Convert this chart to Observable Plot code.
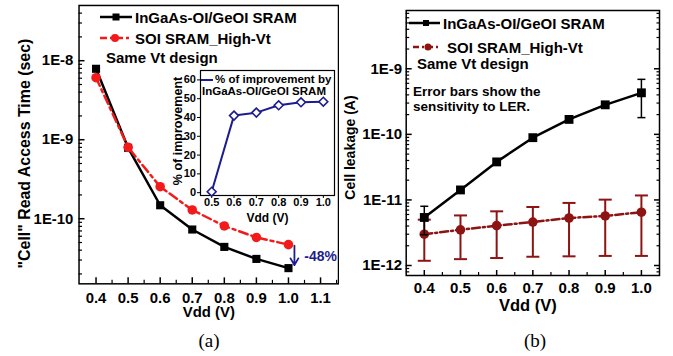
<!DOCTYPE html>
<html>
<head>
<meta charset="utf-8">
<script src="https://cdn.jsdelivr.net/npm/d3@7"></script>
<script src="https://cdn.jsdelivr.net/npm/@observablehq/plot@0.6"></script>
<style>
  html, body { margin: 0; padding: 0; background: #fff; }
  #root { position: relative; width: 673px; height: 356px; background: #fff; overflow: hidden;
          font-family: 'Liberation Sans', Arial, Helvetica, sans-serif; font-weight: bold; color: #000; }
  .abs { position: absolute; }
  .lg { position: absolute; white-space: nowrap; line-height: 1; }
  .cap { position: absolute; font-family: 'Liberation Serif', 'Times New Roman', serif; font-weight: normal;
         font-size: 19px; line-height: 1; transform: translateX(-50%); }
</style>
</head>
<body>
<div id="root"></div>
<script>
// ---------------- DATA ----------------
// Panel (a): "Cell" read access time (s)
const vddA = [0.4, 0.5, 0.6, 0.7, 0.8, 0.9, 1.0];
const accessInGaAs = [7.9e-9, 7.9e-10, 1.48e-10, 7.3e-11, 4.4e-11, 3.1e-11, 2.37e-11];
const accessSOI    = [6.1e-9, 8.0e-10, 2.54e-10, 1.29e-10, 8.1e-11, 5.8e-11, 4.7e-11];
const xTicksA = [0.4, 0.5, 0.6, 0.7, 0.8, 0.9, 1.0, 1.1];
const xMinorA = [0.45, 0.55, 0.65, 0.75, 0.85, 0.95, 1.05, 1.15];
const yTicksA = [1e-10, 1e-9, 1e-8];
const improvementLabel = "-48%";

// Inset: % of improvement
const vddInset = [0.5, 0.6, 0.7, 0.8, 0.9, 1.0];
const improvement = [0.5, 41, 42.6, 46.5, 48.1, 48.4];
const xTicksInset = [0.5, 0.6, 0.7, 0.8, 0.9, 1.0];
const yTicksInset = [0, 10, 20, 30, 40, 50, 60];

// Panel (b): cell leakage (A)
const vddB = [0.4, 0.5, 0.6, 0.7, 0.8, 0.9, 1.0];
const leakInGaAs   = [5.4e-12, 1.42e-11, 3.8e-11, 8.9e-11, 1.69e-10, 2.82e-10, 4.3e-10];
const leakInGaAsLo = [2.95e-12, null, null, null, null, null, 1.8e-10];
const leakInGaAsHi = [8.0e-12, null, null, null, null, null, 6.9e-10];
const leakSOI   = [3.0e-12, 3.5e-12, 4.05e-12, 4.6e-12, 5.3e-12, 5.7e-12, 6.5e-12];
const leakSOILo = [1.18e-12, 1.25e-12, 1.3e-12, 1.36e-12, 1.38e-12, 1.4e-12, 1.4e-12];
const leakSOIHi = [5.0e-12, 5.8e-12, 6.7e-12, 7.8e-12, 9.0e-12, 1.01e-11, 1.17e-11];
const xTicksB = [0.4, 0.5, 0.6, 0.7, 0.8, 0.9, 1.0];
const xMinorB = [0.45, 0.55, 0.65, 0.75, 0.85, 0.95];
const yTicksB = [1e-12, 1e-11, 1e-10, 1e-9];

// ---------------- STYLE ----------------
const FONT = "'Liberation Sans', Arial, Helvetica, sans-serif";
const RED = "#f21a1a";
const DARKRED = "#8e1414";
const NAVY = "#1c1c8e";

function logMinor(lo, hi) {
  const out = [];
  for (let e = Math.floor(Math.log10(lo)); e <= Math.ceil(Math.log10(hi)); e++)
    for (let m = 2; m <= 9; m++) { const v = m * Math.pow(10, e); if (v > lo && v < hi) out.push(v); }
  return out;
}
const fmtE = d => "1E" + Math.round(Math.log10(d));
const fmt1 = d3.format(".1f");
const capSymbol = { draw(ctx, size) { const r = Math.sqrt(size / Math.PI); ctx.moveTo(-r, 0); ctx.lineTo(r, 0); } };

const root = document.getElementById("root");

// ---------------- PANEL (a) ----------------
const dataA = vddA.map((v, i) => ({ vdd: v, ingaas: accessInGaAs[i], soi: accessSOI[i] }));
const yDomA = [1.5e-11, 5e-8];
const plotA = Plot.plot({
  width: 341, height: 356,
  marginLeft: 79, marginRight: 1, marginTop: 5, marginBottom: 71,
  style: { fontFamily: FONT, fontWeight: "bold", fontSize: "15px", background: "transparent", color: "black" },
  x: { domain: [0.347, 1.156], label: null },
  y: { type: "log", domain: yDomA, label: null },
  marks: [
    Plot.frame({ stroke: "black", strokeWidth: 1.5 }),
    Plot.axisX(xTicksA, { tickSize: 0, tickPadding: 8.3, tickFormat: fmt1, label: null }),
    Plot.axisX(xTicksA, { tickSize: 6, dy: -6, fill: "none", strokeWidth: 1.5, label: null }),
    Plot.axisX(xMinorA, { tickSize: 3.5, dy: -3.5, fill: "none", strokeWidth: 1.2, label: null }),
    Plot.axisY(yTicksA, { anchor: "left", tickSize: 0, tickPadding: 5.7, tickFormat: fmtE, label: null }),
    Plot.axisY(yTicksA, { anchor: "left", tickSize: 6, dx: 6, fill: "none", strokeWidth: 1.5, label: null }),
    Plot.axisY(logMinor(...yDomA), { anchor: "left", tickSize: 3.5, dx: 3.5, fill: "none", strokeWidth: 1.2, label: null }),
    Plot.line(dataA, { x: "vdd", y: "ingaas", stroke: "black", strokeWidth: 2.5 }),
    Plot.dot(dataA, { x: "vdd", y: "ingaas", symbol: "square", r: 4.6, fill: "black" }),
    Plot.line(dataA, { x: "vdd", y: "soi", stroke: RED, strokeWidth: 2.5, strokeDasharray: "9,4,3,4" }),
    Plot.dot(dataA, { x: "vdd", y: "soi", r: 4.8, fill: RED }),
    Plot.arrow(dataA.slice(-1), { x: "vdd", y1: "soi", y2: "ingaas", dx: 6, stroke: NAVY, strokeWidth: 1.8, headLength: 7, insetStart: 1, insetEnd: 3 }),
    Plot.text(dataA.slice(-1), { x: "vdd", y: d => Math.sqrt(d.soi * d.ingaas), text: () => improvementLabel, dx: 16, textAnchor: "start", fill: NAVY, fontSize: 14 }),
    Plot.text(["Vdd (V)"], { frameAnchor: "bottom", dy: 29, lineAnchor: "middle", fontSize: 15 }),
    Plot.text(["\"Cell\" Read Access Time (sec)"], { frameAnchor: "left", dx: -54, dy: 9, rotate: -90, textAnchor: "middle", lineAnchor: "middle", fontSize: 16 })
  ]
});
const wrapA = document.createElement("div");
wrapA.className = "abs";
wrapA.style.cssText = "left:0;top:0;width:339px;height:356px;overflow:hidden;";
wrapA.appendChild(plotA);
root.appendChild(wrapA);

// ---------------- INSET ----------------
const dataInset = vddInset.map((v, i) => ({ vdd: v, imp: improvement[i] }));
const plotI = Plot.plot({
  width: 176, height: 170,
  marginLeft: 40, marginRight: 2, marginTop: 8, marginBottom: 37,
  style: { fontFamily: FONT, fontWeight: "bold", fontSize: "11px", background: "transparent", color: "black", overflow: "visible" },
  x: { domain: [0.45, 1.05], label: null },
  y: { domain: [-1.5, 65], label: null },
  marks: [
    Plot.frame({ fill: "white", stroke: "black", strokeWidth: 1.2 }),
    Plot.axisX(xTicksInset, { tickSize: 0, tickPadding: 3, tickFormat: fmt1, label: null }),
    Plot.axisX(xTicksInset, { tickSize: 3, fill: "none", strokeWidth: 1, label: null }),
    Plot.axisY(yTicksInset, { anchor: "left", tickSize: 0, tickPadding: 4.5, label: null }),
    Plot.axisY(yTicksInset, { anchor: "left", tickSize: 3, fill: "none", strokeWidth: 1, label: null }),
    Plot.line(dataInset, { x: "vdd", y: "imp", stroke: NAVY, strokeWidth: 2 }),
    Plot.dot(dataInset, { x: "vdd", y: "imp", symbol: "diamond2", r: 4, fill: "white", stroke: NAVY, strokeWidth: 1.6 }),
    Plot.text(["Vdd (V)"], { frameAnchor: "bottom", dy: 23, lineAnchor: "middle", fontSize: 12 }),
    Plot.text(["% of improvement"], { frameAnchor: "left", dx: -22.5, dy: -2, rotate: -90, textAnchor: "middle", lineAnchor: "middle", fontSize: 12.5 })
  ]
});
const wrapI = document.createElement("div");
wrapI.className = "abs";
wrapI.style.cssText = "left:160px;top:62px;";
wrapI.appendChild(plotI);
root.appendChild(wrapI);

// ---------------- PANEL (b) ----------------
const dataB = vddB.map((v, i) => ({
  vdd: v, ingaas: leakInGaAs[i], ingaasLo: leakInGaAsLo[i], ingaasHi: leakInGaAsHi[i],
  soi: leakSOI[i], soiLo: leakSOILo[i], soiHi: leakSOIHi[i]
}));
const errInGaAs = dataB.filter(d => d.ingaasLo != null);
const yDomB = [7.04e-13, 7.74e-9];
const plotB = Plot.plot({
  width: 333, height: 356,
  marginLeft: 65.7, marginRight: 14, marginTop: 10, marginBottom: 81,
  style: { fontFamily: FONT, fontWeight: "bold", fontSize: "15px", background: "transparent", color: "black" },
  x: { domain: [0.35, 1.05], label: null },
  y: { type: "log", domain: yDomB, label: null },
  marks: [
    Plot.frame({ stroke: "black", strokeWidth: 1.5 }),
    Plot.axisX(xTicksB, { tickSize: 0, tickPadding: 7.3, tickFormat: fmt1, label: null }),
    Plot.axisX(xTicksB, { tickSize: 5, dy: -5, fill: "none", strokeWidth: 1.5, label: null }),
    Plot.axisX(xMinorB, { tickSize: 3, dy: -3, fill: "none", strokeWidth: 1.2, label: null }),
    Plot.axisY(yTicksB, { anchor: "left", tickSize: 0, tickPadding: 4, tickFormat: fmtE, label: null }),
    Plot.axisY(yTicksB, { anchor: "left", tickSize: 6, dx: 6, fill: "none", strokeWidth: 1.5, label: null }),
    Plot.axisY(logMinor(...yDomB), { anchor: "left", tickSize: 3.5, dx: 3.5, fill: "none", strokeWidth: 1.2, label: null }),
    Plot.axisY(yTicksB, { anchor: "right", tickSize: 6, dx: -6, fill: "none", strokeWidth: 1.5, label: null }),
    Plot.axisY(logMinor(...yDomB), { anchor: "right", tickSize: 3.5, dx: -3.5, fill: "none", strokeWidth: 1.2, label: null }),
    // SOI (dark red) with error bars
    Plot.ruleX(dataB, { x: "vdd", y1: "soiLo", y2: "soiHi", stroke: DARKRED, strokeWidth: 2 }),
    Plot.dot(dataB, { x: "vdd", y: "soiLo", symbol: capSymbol, r: 6.5, fill: "none", stroke: DARKRED, strokeWidth: 2 }),
    Plot.dot(dataB, { x: "vdd", y: "soiHi", symbol: capSymbol, r: 6.5, fill: "none", stroke: DARKRED, strokeWidth: 2 }),
    Plot.line(dataB, { x: "vdd", y: "soi", stroke: DARKRED, strokeWidth: 2.5, strokeDasharray: "8,3,2,3" }),
    Plot.dot(dataB, { x: "vdd", y: "soi", r: 4.8, fill: DARKRED }),
    // InGaAs (black) with error bars
    Plot.ruleX(errInGaAs, { x: "vdd", y1: "ingaasLo", y2: "ingaasHi", stroke: "black", strokeWidth: 1.5 }),
    Plot.dot(errInGaAs, { x: "vdd", y: "ingaasLo", symbol: capSymbol, r: 4, fill: "none", stroke: "black", strokeWidth: 1.5 }),
    Plot.dot(errInGaAs, { x: "vdd", y: "ingaasHi", symbol: capSymbol, r: 4, fill: "none", stroke: "black", strokeWidth: 1.5 }),
    Plot.line(dataB, { x: "vdd", y: "ingaas", stroke: "black", strokeWidth: 2.5 }),
    Plot.dot(dataB, { x: "vdd", y: "ingaas", symbol: "square", r: 5, fill: "black" }),
    Plot.text(["Vdd (V)"], { frameAnchor: "bottom", dx: -5, dy: 30, lineAnchor: "middle", fontSize: 16.5 }),
    Plot.text(["Cell leakage (A)"], { frameAnchor: "left", dx: -55.7, dy: 4.5, rotate: -90, textAnchor: "middle", lineAnchor: "middle", fontSize: 14 })
  ]
});
const wrapB = document.createElement("div");
wrapB.className = "abs";
wrapB.style.cssText = "left:340px;top:0;";
wrapB.appendChild(plotB);
root.appendChild(wrapB);

// ---------------- LEGENDS / ANNOTATIONS ----------------
function swatch(left, top, w, color, dash, marker, ms, mx, sw) {
  const ns = "http://www.w3.org/2000/svg";
  const s = document.createElementNS(ns, "svg");
  s.setAttribute("width", w); s.setAttribute("height", 14);
  s.style.cssText = `position:absolute;left:${left}px;top:${top - 7}px;overflow:visible;`;
  const l = document.createElementNS(ns, "line");
  l.setAttribute("x1", 0); l.setAttribute("x2", w); l.setAttribute("y1", 7); l.setAttribute("y2", 7);
  l.setAttribute("stroke", color); l.setAttribute("stroke-width", sw);
  if (dash) l.setAttribute("stroke-dasharray", dash);
  s.appendChild(l);
  if (marker === "square") {
    const r = document.createElementNS(ns, "rect");
    r.setAttribute("x", mx - ms / 2); r.setAttribute("y", 7 - ms / 2); r.setAttribute("width", ms); r.setAttribute("height", ms);
    r.setAttribute("fill", color); s.appendChild(r);
  } else if (marker === "circle") {
    const c = document.createElementNS(ns, "circle");
    c.setAttribute("cx", mx); c.setAttribute("cy", 7); c.setAttribute("r", ms / 2);
    c.setAttribute("fill", color); s.appendChild(c);
  }
  root.appendChild(s);
}
function label(text, left, centerY, size, color, extra) {
  const d = document.createElement("div");
  d.className = "lg";
  d.textContent = text;
  d.style.left = left + "px";
  d.style.top = (centerY - size / 2) + "px";
  d.style.fontSize = size + "px";
  if (color) d.style.color = color;
  if (extra) d.style.cssText += extra;
  root.appendChild(d);
}

// (a) legend
swatch(100, 17, 32, "black", null, "square", 7, 16, 2.5);
label("InGaAs-OI/GeOI SRAM", 135, 17, 15);
swatch(100, 38, 32, RED, "7,3,3,3", "circle", 8, 15, 2.5);
label("SOI SRAM_High-Vt", 135, 38, 15);
label("Same Vt design", 106, 57, 15);

// inset legend
swatch(201, 80, 12, NAVY, null, null, 0, 0, 2);
label("% of improvement by", 215, 80, 11.5);
label("InGaAs-OI/GeOI SRAM", 202, 91.5, 11.5);

// (b) legend
swatch(409, 23, 31, "black", null, "square", 6, 17, 2.5);
label("InGaAs-OI/GeOI SRAM", 443, 23, 15);
swatch(413, 47, 26, DARKRED, "6,3,2,3", "circle", 7, 15, 2.5);
label("SOI SRAM_High-Vt", 447, 47, 15);
label("Same Vt design", 417, 63, 15);
label("Error bars show the", 413, 92, 13.5);
label("sensitivity to LER.", 413, 107, 13.5);

// captions
const ca = document.createElement("div"); ca.className = "cap"; ca.textContent = "(a)";
ca.style.left = "209px"; ca.style.top = (340 - 9.5) + "px"; root.appendChild(ca);
const cb = document.createElement("div"); cb.className = "cap"; cb.textContent = "(b)";
cb.style.left = "535px"; cb.style.top = (340 - 9.5) + "px"; root.appendChild(cb);
</script>
</body>
</html>
